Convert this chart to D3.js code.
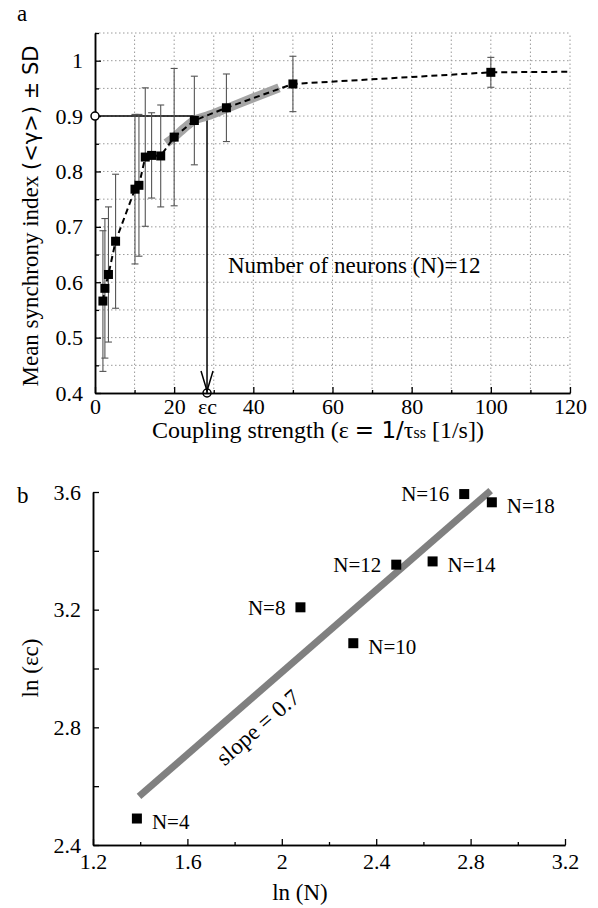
<!DOCTYPE html>
<html>
<head>
<meta charset="utf-8">
<script src="https://cdn.jsdelivr.net/npm/d3@7"></script>
<style>
  body { margin: 0; background: #fff; }
  text { fill: #000; }
</style>
</head>
<body>
<svg id="chart" width="598" height="908" font-family="Liberation Serif, Times New Roman, serif"></svg>
<script>
// panel a: synchrony vs coupling strength (N = 12)
const epsilon = [2, 2.5, 3.4, 5.2, 10.1, 11.1, 12.7, 14.3, 16.6, 20, 25.1, 33.2, 50, 100];
const meanSync = [0.566, 0.589, 0.614, 0.674, 0.768, 0.775, 0.826, 0.829, 0.828, 0.862, 0.892, 0.915, 0.958, 0.979];
const sdSync = [0.127, 0.126, 0.122, 0.121, 0.135, 0.128, 0.125, 0.077, 0.092, 0.124, 0.08, 0.061, 0.05, 0.027];
const tailEps = [100, 120];
const tailSync = [0.979, 0.98];
const bandEps = [18, 20, 22.5, 25, 28.3, 33, 40, 46.5];
const bandSync = [0.851, 0.862, 0.878, 0.892, 0.9, 0.913, 0.933, 0.951];
const epsC = 28.3;
const syncThreshold = 0.9;
const xTicksA = [0, 20, 40, 60, 80, 100, 120];
const xMinorA = [10, 30, 50, 70, 90, 110];
const yTicksA = [0.4, 0.5, 0.6, 0.7, 0.8, 0.9, 1];
const yMinorA = [0.45, 0.55, 0.65, 0.75, 0.85, 0.95, 1.05];
const xGridA = [10, 20, 30, 40, 50, 60, 70, 80, 90, 100, 110, 120];
const yGridA = [0.45, 0.5, 0.55, 0.6, 0.65, 0.7, 0.75, 0.8, 0.85, 0.9, 0.95, 1, 1.05];

// panel b: ln(eps_c) vs ln(N)
const nLabels = ["N=4", "N=8", "N=10", "N=12", "N=14", "N=16", "N=18"];
const lnN = [1.386, 2.079, 2.303, 2.485, 2.639, 2.773, 2.890];
const lnEpsC = [2.49, 3.208, 3.086, 3.353, 3.364, 3.593, 3.565];
const labelSide = ["right", "left", "right", "left", "right", "left", "right"];
const fitLnN = [1.395, 2.885];
const fitLnEps = [2.565, 3.605];
const xTicksB = [1.2, 1.6, 2, 2.4, 2.8, 3.2];
const xMinorB = [1.4, 1.8, 2.2, 2.6, 3.0];
const yTicksB = [2.4, 2.8, 3.2, 3.6];
const yMinorB = [2.6, 3.0, 3.4];

const svg = d3.select("#chart");
const serif = "Liberation Serif, Times New Roman, serif";

// ---------- panel a ----------
const xa = d3.scaleLinear().domain([0, 120]).range([95, 570]);
const ya = d3.scaleLinear().domain([0.4, 1.05]).range([393, 33]);

const grid = svg.append("g").attr("stroke", "#9a9a9a").attr("stroke-width", 1)
  .attr("stroke-dasharray", "1.5,2.5");
grid.selectAll("line.v").data(xGridA).join("line").attr("class", "v")
  .attr("x1", d => xa(d)).attr("x2", d => xa(d))
  .attr("y1", ya(0.4)).attr("y2", ya(1.05));
grid.selectAll("line.h").data(yGridA).join("line").attr("class", "h")
  .attr("x1", xa(0)).attr("x2", xa(120))
  .attr("y1", d => ya(d)).attr("y2", d => ya(d));

function styleAxis(g) {
  g.attr("font-family", serif).attr("font-size", 22);
  g.selectAll("path.domain").attr("stroke", "#000").attr("stroke-width", 1.5);
  g.selectAll(".tick line").attr("stroke", "#000").attr("stroke-width", 1.3);
  g.selectAll(".tick text").attr("fill", "#000")
    .style("font-family", serif).style("font-size", "22px");
}

svg.append("g").attr("transform", `translate(0,${ya(0.4)})`)
  .call(d3.axisBottom(xa).tickValues(xMinorA).tickSize(-3).tickSizeOuter(0).tickFormat(""))
  .call(styleAxis);
svg.append("g").attr("transform", `translate(0,${ya(0.4)})`)
  .call(d3.axisBottom(xa).tickValues(xTicksA).tickSize(-6).tickSizeOuter(0).tickPadding(5))
  .call(styleAxis);
svg.append("g").attr("transform", `translate(0,${ya(0.4)})`)
  .call(d3.axisBottom(xa).tickValues([epsC]).tickSize(0).tickPadding(5).tickFormat(() => "εc"))
  .call(styleAxis)
  .call(g => g.select(".domain").remove());

svg.append("g").attr("transform", `translate(${xa(0)},0)`)
  .call(d3.axisLeft(ya).tickValues(yMinorA).tickSize(-4).tickSizeOuter(0).tickFormat(""))
  .call(styleAxis);
svg.append("g").attr("transform", `translate(${xa(0)},0)`)
  .call(d3.axisLeft(ya).tickValues(yTicksA).tickSize(-6).tickSizeOuter(0).tickPadding(12)
    .tickFormat(d => d === 1 ? "1" : d.toFixed(1)))
  .call(styleAxis);

// threshold lines
svg.append("line")
  .attr("x1", xa(0)).attr("x2", xa(epsC))
  .attr("y1", ya(syncThreshold)).attr("y2", ya(syncThreshold))
  .attr("stroke", "#000").attr("stroke-width", 1.5);
svg.append("line")
  .attr("x1", xa(epsC)).attr("x2", xa(epsC))
  .attr("y1", ya(syncThreshold)).attr("y2", ya(0.4))
  .attr("stroke", "#000").attr("stroke-width", 1.5);
svg.append("path")
  .attr("d", `M${xa(epsC) - 6},${ya(0.4) - 22}L${xa(epsC)},${ya(0.4) - 2}L${xa(epsC) + 6},${ya(0.4) - 22}`)
  .attr("fill", "none").attr("stroke", "#000").attr("stroke-width", 1.5);
svg.append("circle").attr("cx", xa(0)).attr("cy", ya(syncThreshold)).attr("r", 4)
  .attr("fill", "#fff").attr("stroke", "#000").attr("stroke-width", 1.5);
svg.append("circle").attr("cx", xa(epsC)).attr("cy", ya(0.4)).attr("r", 4)
  .attr("fill", "none").attr("stroke", "#000").attr("stroke-width", 1.5);

// grey fit band
svg.append("path")
  .datum(d3.zip(bandEps, bandSync))
  .attr("d", d3.line().x(d => xa(d[0])).y(d => ya(d[1])).curve(d3.curveMonotoneX))
  .attr("fill", "none").attr("stroke", "#9b9b9b").attr("stroke-width", 9)
  .attr("stroke-opacity", 0.9);

// error bars
const pts = d3.zip(epsilon, meanSync, sdSync);
const eb = svg.append("g").attr("stroke", "#555").attr("stroke-width", 1.1);
eb.selectAll("line.bar").data(pts).join("line").attr("class", "bar")
  .attr("x1", d => xa(d[0])).attr("x2", d => xa(d[0]))
  .attr("y1", d => ya(d[1] + d[2])).attr("y2", d => ya(d[1] - d[2]));
eb.selectAll("line.capT").data(pts).join("line").attr("class", "capT")
  .attr("x1", d => xa(d[0]) - 3.5).attr("x2", d => xa(d[0]) + 3.5)
  .attr("y1", d => ya(d[1] + d[2])).attr("y2", d => ya(d[1] + d[2]));
eb.selectAll("line.capB").data(pts).join("line").attr("class", "capB")
  .attr("x1", d => xa(d[0]) - 3.5).attr("x2", d => xa(d[0]) + 3.5)
  .attr("y1", d => ya(d[1] - d[2])).attr("y2", d => ya(d[1] - d[2]));

// dashed mean curve
const lineA = d3.line().x(d => xa(d[0])).y(d => ya(d[1]));
svg.append("path")
  .datum(d3.zip(epsilon, meanSync).concat(d3.zip(tailEps, tailSync).slice(1)))
  .attr("d", lineA)
  .attr("fill", "none").attr("stroke", "#000").attr("stroke-width", 2)
  .attr("stroke-dasharray", "6,4");

svg.append("g").selectAll("rect").data(pts).join("rect")
  .attr("x", d => xa(d[0]) - 4.5).attr("y", d => ya(d[1]) - 4.5)
  .attr("width", 9).attr("height", 9).attr("fill", "#000");

svg.append("text").attr("x", 228).attr("y", 273).attr("font-size", 23)
  .text("Number of neurons (N)=12");

svg.append("text").attr("x", 17).attr("y", 21).attr("font-size", 23).text("a");

svg.append("text")
  .attr("transform", "translate(38,216) rotate(-90)")
  .attr("text-anchor", "middle").attr("font-size", 23)
  .call(t => {
    t.append("tspan").text("Mean synchrony index ");
    t.append("tspan").attr("font-family", "DejaVu Sans").attr("font-size", 21).text("(<γ>) ± SD");
  });

svg.append("text")
  .attr("x", 318).attr("y", 438).attr("text-anchor", "middle").attr("font-size", 24)
  .call(t => {
    t.append("tspan").text("Coupling strength (ε ");
    t.append("tspan").attr("font-family", "DejaVu Sans").attr("font-size", 23).text("= 1/");
    t.append("tspan").text("τ");
    t.append("tspan").attr("font-size", 16).text("ss");
    t.append("tspan").text(" [1/s])");
  });

// ---------- panel b ----------
const xb = d3.scaleLinear().domain([1.2, 3.2]).range([93, 565]);
const yb = d3.scaleLinear().domain([2.4, 3.6]).range([845, 492]);

svg.append("g").attr("transform", `translate(0,${yb(2.4)})`)
  .call(d3.axisBottom(xb).tickValues(xMinorB).tickSize(-3).tickSizeOuter(0).tickFormat(""))
  .call(styleAxis);
svg.append("g").attr("transform", `translate(0,${yb(2.4)})`)
  .call(d3.axisBottom(xb).tickValues(xTicksB).tickSize(-6).tickSizeOuter(0).tickPadding(8)
    .tickFormat(d => d === 2 ? "2" : d.toFixed(1)))
  .call(styleAxis);
svg.append("g").attr("transform", `translate(${xb(1.2)},0)`)
  .call(d3.axisLeft(yb).tickValues(yMinorB).tickSize(-6).tickSizeOuter(0).tickFormat(""))
  .call(styleAxis);
svg.append("g").attr("transform", `translate(${xb(1.2)},0)`)
  .call(d3.axisLeft(yb).tickValues(yTicksB).tickSize(-6).tickSizeOuter(0).tickPadding(12)
    .tickFormat(d3.format(".1f")))
  .call(styleAxis);

svg.append("path")
  .datum(d3.zip(fitLnN, fitLnEps))
  .attr("d", d3.line().x(d => xb(d[0])).y(d => yb(d[1])))
  .attr("stroke", "#808080").attr("stroke-width", 7).attr("fill", "none");

const ptsB = d3.zip(lnN, lnEpsC, nLabels, labelSide);
svg.append("g").selectAll("rect").data(ptsB).join("rect")
  .attr("x", d => xb(d[0]) - 5).attr("y", d => yb(d[1]) - 5)
  .attr("width", 10).attr("height", 10).attr("fill", "#000");
svg.append("g").selectAll("text").data(ptsB).join("text")
  .attr("x", d => d[3] === "right" ? xb(d[0]) + 15 : xb(d[0]) - 15)
  .attr("y", d => d[3] === "right" ? yb(d[1]) + 3 : yb(d[1]))
  .attr("dy", "0.35em").attr("font-size", 21)
  .attr("text-anchor", d => d[3] === "right" ? "start" : "end")
  .text(d => d[2]);

const fitAngle = Math.atan2(yb(fitLnEps[1]) - yb(fitLnEps[0]), xb(fitLnN[1]) - xb(fitLnN[0])) * 180 / Math.PI;
svg.append("text")
  .attr("transform", `translate(263,733) rotate(${fitAngle})`)
  .attr("text-anchor", "middle").attr("font-size", 23)
  .text("slope = 0.7");

svg.append("text").attr("x", 17).attr("y", 503).attr("font-size", 23).text("b");

svg.append("text")
  .attr("transform", "translate(38,668) rotate(-90)")
  .attr("text-anchor", "middle").attr("font-size", 23).text("ln (εc)");

svg.append("text")
  .attr("x", 300).attr("y", 900).attr("text-anchor", "middle").attr("font-size", 23).text("ln (N)");
</script>
</body>
</html>
